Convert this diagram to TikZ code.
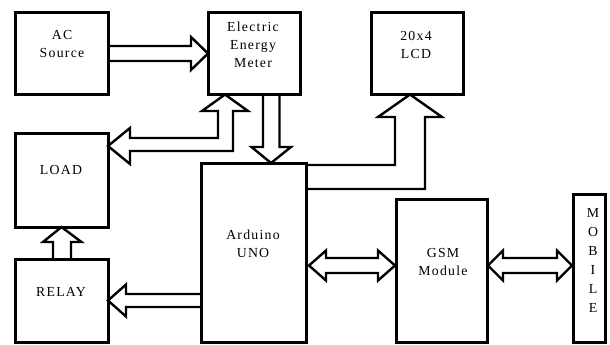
\documentclass[tikz,border=0pt]{standalone}
\usepackage{fontspec}
\setmainfont{Liberation Serif}[LetterSpace=9]
\usetikzlibrary{calc}
\begin{document}
\begin{tikzpicture}[x=1pt,y=-1pt,
  box/.style={draw, line width=3pt, inner sep=0pt, outer sep=0pt, line join=miter},
  blk/.style={draw, line width=2.4pt, line join=miter},
  lbl/.style={font=\fontsize{13.8}{18}\selectfont, align=center, inner sep=0pt}]
\useasboundingbox (0,0) rectangle (610,345);
% boxes
\node[box, minimum width=93pt, minimum height=81pt] (ac) at (61.5,53.5) {};
\node[box, minimum width=92pt, minimum height=82pt] (meter) at (254,53.5) {};
\node[box, minimum width=92pt, minimum height=82pt] (lcd) at (417,53.5) {};
\node[box, minimum width=93pt, minimum height=94pt] (load) at (61.5,180) {};
\node[box, minimum width=93pt, minimum height=83pt] (relay) at (61.5,300.5) {};
\node[box, minimum width=105pt, minimum height=179pt] (uno) at (253.5,252.5) {};
\node[box, minimum width=91pt, minimum height=143pt] (gsm) at (441.5,270.5) {};
\node[box, minimum width=32pt, minimum height=148pt] (mobile) at (589,268) {};
% labels
\node[lbl] (tac) at (62,44) {AC\\Source};
\node[lbl] (tmeter) at (253,45) {Electric\\Energy\\Meter};
\node[lbl] (tlcd) at (416,44.5) {20x4\\LCD};
\node[lbl] (tload) at (61,170) {LOAD};
\node[lbl] (tuno) at (253,244) {Arduino\\UNO};
\node[lbl] (trelay) at (61,292) {RELAY};
\node[lbl] (tgsm) at (443,262) {GSM\\Module};
\node[lbl, font=\fontsize{13.8}{19}\selectfont] (tmob) at (593,260) {M\\O\\B\\I\\L\\E};
% AC -> meter
\draw[blk] ($(ac.east)+(0,-7.5)$) -- ($(meter.west)+(-17,-7.5)$) -- ++(0,-9)
  -- (meter.west) -- ($(meter.west)+(-17,16.5)$) -- ++(0,-9) -- ($(ac.east)+(0,7.5)$);
% meter -> uno
\draw[blk] ($(meter.south)+(9,0)$) -- ($(uno.north)+(9.5,-16)$) -- ++(-11.5,0)
  -- ($(uno.north)+(17.5,0)$) -- ($(uno.north)+(37.5,-16)$) -- ++(-11.5,0)
  -- ($(meter.south)+(25.5,0)$);
% meter <-> load (elbow)
\coordinate (mtip) at ($(meter.south)+(-29,0)$);
\coordinate (ltip) at ($(load.north east)+(0,13)$);
\draw[blk] (mtip) -- ++(23,16.5) -- ++(-15,0) |- ($(ltip)+(22,5)$) -- ++(0,13) -- (ltip)
  -- ++(22,-18) -- ++(0,10) -| ($(mtip)+(-7,16.5)$) -- ++(-16,0) -- cycle;
% uno -> lcd (elbow)
\coordinate (ctip) at ($(lcd.south)+(-7,0)$);
\draw[blk] ($(uno.north east)+(0,2)$) -| ($(ctip)+(-15,22.5)$) -- ++(-17,0) -- (ctip)
  -- ++(32,22.5) -- ++(-17,0) |- ($(uno.north east)+(0,26)$);
% uno -> relay
\draw[blk] ($(uno.west |- relay.east)+(0,-6.5)$) -- ($(relay.east)+(18,-6.5)$) -- ++(0,-9.5)
  -- (relay.east) -- ($(relay.east)+(18,16)$) -- ++(0,-9.5) -- ($(uno.west |- relay.east)+(0,6.5)$);
% relay -> load
\draw[blk] ($(relay.north)+(-8.5,0)$) -- ($(load.south)+(-8.5,15)$) -- ++(-10,0)
  -- (load.south) -- ($(load.south)+(20,15)$) -- ++(-10.5,0) -- ($(relay.north)+(9.5,0)$);
% uno <-> gsm
\coordinate (u1) at ($(uno.east |- 0,265.5)+(3,0)$);
\coordinate (g1) at ($(gsm.west |- 0,265.5)+(-1,0)$);
\draw[blk] (u1) -- ++(17,-15) -- ++(0,7.5) -- ($(g1)+(-17,-7.5)$) -- ++(0,-7.5) -- (g1)
  -- ++(-17,15) -- ++(0,-7.5) -- ($(u1)+(17,7.5)$) -- ++(0,7.5) -- cycle;
% gsm <-> mobile
\coordinate (g2) at ($(gsm.east |- 0,265.5)+(1,0)$);
\coordinate (m1) at ($(mobile.west |- 0,265.5)+(-1,0)$);
\draw[blk] (g2) -- ++(15,-15) -- ++(0,7.5) -- ($(m1)+(-15,-7.5)$) -- ++(0,-7.5) -- (m1)
  -- ++(-15,15) -- ++(0,-7.5) -- ($(g2)+(15,7.5)$) -- ++(0,7.5) -- cycle;
\end{tikzpicture}
\end{document}
